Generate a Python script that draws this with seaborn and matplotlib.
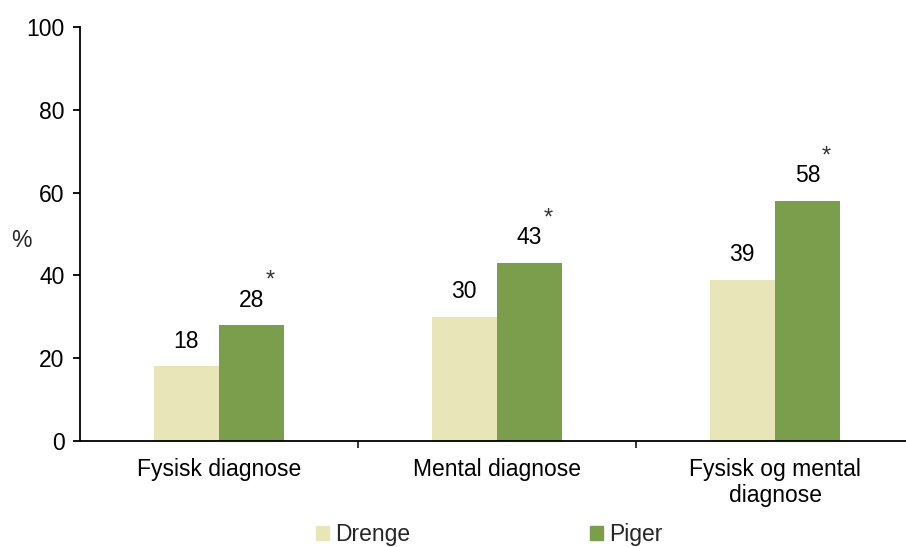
import matplotlib
matplotlib.use("Agg")
import matplotlib.pyplot as plt
import matplotlib.patches as patches
import seaborn as sns
import pandas as pd

categories = ["Fysisk diagnose", "Mental diagnose", "Fysisk og mental\ndiagnose"]
groups = ["Drenge", "Piger"]
drenge = [18, 30, 39]
piger = [28, 43, 58]
significant = [False, False, False, True, True, True]  # stars on Piger bars

colors = {"Drenge": "#E8E6B8", "Piger": "#7A9E4B"}

df = pd.DataFrame({
    "kategori": categories * 2,
    "gruppe": ["Drenge"] * 3 + ["Piger"] * 3,
    "pct": drenge + piger,
})

sns.set_theme(style="white")
plt.rcParams["font.family"] = ["Liberation Sans", "DejaVu Sans"]
fs = 16.5

fig = plt.figure(figsize=(9.06, 5.47), dpi=100)
ax = fig.add_axes([80 / 906, 106 / 547, 834 / 906, 414 / 547])

sns.barplot(data=df, x="kategori", y="pct", hue="gruppe", order=categories,
            hue_order=groups, palette=colors, width=0.47, ax=ax,
            linewidth=0, saturation=1, legend=False)

# value labels and significance stars
for bar, val, star in zip(ax.patches, drenge + piger, significant):
    cx = bar.get_x() + bar.get_width() / 2
    ax.annotate(str(val), (cx, val), xytext=(0, 18), textcoords="offset points",
                ha="center", va="center", fontsize=fs, color="black")
    if star:
        ax.annotate("*", (cx, val), xytext=(13, 32), textcoords="offset points",
                    ha="center", va="center", fontsize=17, color="#333333")

ax.set_ylim(0, 100)
ax.set_xlim(-0.5, 2.5)
ax.set_yticks(range(0, 101, 20))
ax.set_xlabel("")
ax.set_ylabel("%", rotation=0, fontsize=fs, labelpad=0)
ax.yaxis.set_label_coords(-0.07, 0.457)

for s in ["top", "right"]:
    ax.spines[s].set_visible(False)
for s in ["left", "bottom"]:
    ax.spines[s].set_linewidth(1.3)
    ax.spines[s].set_color("black")

ax.tick_params(axis="y", direction="out", length=5, width=1.3, labelsize=fs,
               left=True, pad=6, colors="black")
ax.tick_params(axis="x", which="major", length=0, labelsize=fs, pad=12,
               colors="black")
ax.set_xticks([0.5, 1.5], minor=True)
ax.tick_params(axis="x", which="minor", direction="out", length=5, width=1.3,
               bottom=True)

handles = [patches.Patch(color=colors[g], label=g) for g in groups]
ax.legend(handles=handles, loc="center", bbox_to_anchor=(0.491, -0.227),
          ncol=2, frameon=False, fontsize=fs, handlelength=0.55,
          handleheight=0.55, handletextpad=0.28, columnspacing=7.85,
          borderaxespad=0)

fig.savefig("out.png", dpi=100)
